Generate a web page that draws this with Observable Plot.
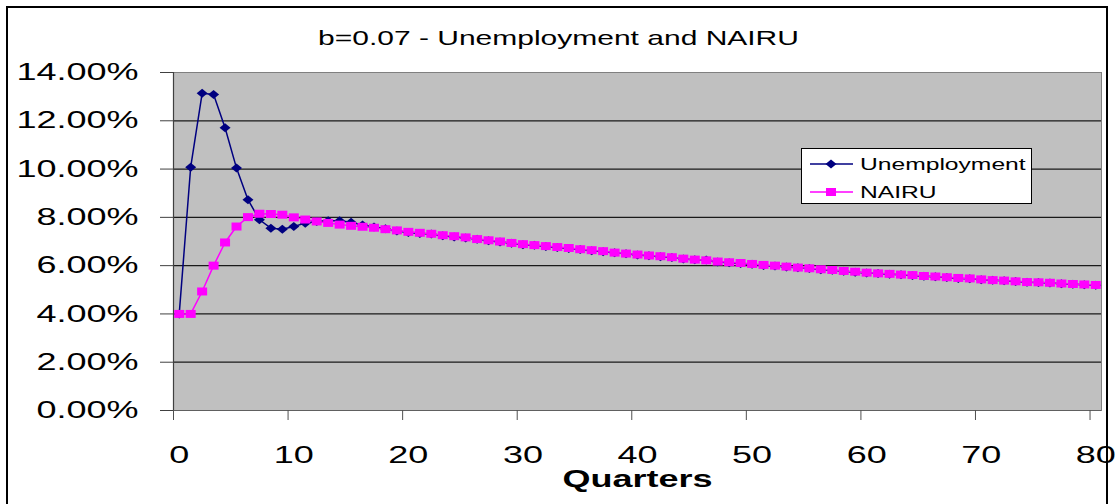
<!DOCTYPE html>
<html>
<head>
<meta charset="utf-8">
<script src="https://cdn.jsdelivr.net/npm/d3@7"></script>
<script src="https://cdn.jsdelivr.net/npm/@observablehq/plot@0.6"></script>
<style>
  html, body { margin: 0; padding: 0; background: #fff; }
  #chart { width: 1117px; height: 504px; }
</style>
</head>
<body>
<div id="chart"></div>
<script>
// ---- data (percent) ----
const quarters = d3.range(0, 81);
const unemployment = [
  4.00, 10.08, 13.14, 13.09, 11.71, 10.04, 8.73, 7.90, 7.55, 7.51,
  7.62, 7.76, 7.83, 7.86, 7.86, 7.80, 7.68, 7.60, 7.53, 7.43,
  7.37, 7.33, 7.31, 7.24, 7.19, 7.15, 7.09, 7.03, 6.98, 6.93,
  6.87, 6.84, 6.79, 6.75, 6.71, 6.67, 6.62, 6.58, 6.53, 6.49,
  6.44, 6.41, 6.37, 6.34, 6.28, 6.24, 6.23, 6.15, 6.12, 6.09,
  6.06, 6.01, 5.99, 5.94, 5.91, 5.88, 5.83, 5.81, 5.77, 5.73,
  5.70, 5.67, 5.64, 5.62, 5.59, 5.56, 5.54, 5.51, 5.47, 5.46,
  5.42, 5.39, 5.37, 5.34, 5.31, 5.30, 5.28, 5.25, 5.23, 5.21,
  5.19
];
const nairu = [
  4.00, 4.00, 4.93, 6.00, 6.96, 7.62, 8.01, 8.15, 8.14, 8.11,
  8.00, 7.91, 7.83, 7.77, 7.70, 7.65, 7.61, 7.57, 7.51, 7.46,
  7.40, 7.36, 7.32, 7.26, 7.22, 7.17, 7.10, 7.05, 7.00, 6.94,
  6.89, 6.85, 6.81, 6.77, 6.73, 6.68, 6.64, 6.60, 6.54, 6.50,
  6.46, 6.42, 6.39, 6.35, 6.29, 6.25, 6.22, 6.17, 6.14, 6.11,
  6.07, 6.03, 6.00, 5.96, 5.92, 5.89, 5.85, 5.82, 5.78, 5.75,
  5.71, 5.68, 5.66, 5.63, 5.61, 5.57, 5.55, 5.52, 5.49, 5.47,
  5.43, 5.40, 5.38, 5.35, 5.32, 5.31, 5.29, 5.26, 5.24, 5.22,
  5.20
];
const yTicks = [0, 2, 4, 6, 8, 10, 12, 14];
const xLabelTicks = [0, 10, 20, 30, 40, 50, 60, 70, 80];
const xTickMarks = [-0.5, 9.5, 19.5, 29.5, 39.5, 49.5, 59.5, 69.5, 79.5];
const gridTicks = [2, 4, 6, 8, 10, 12];
const titleText = "b=0.07 - Unemployment and NAIRU";
const xTitle = "Quarters";
const seriesNames = ["Unemployment", "NAIRU"];
const colors = ["#000080", "#FF00FF"];

const unempData = quarters.map((q, i) => ({q, v: unemployment[i]}));
const nairuData = quarters.map((q, i) => ({q, v: nairu[i]}));

const diamondSym = {draw(ctx) { ctx.moveTo(-5.5, 0); ctx.lineTo(0, -4.5); ctx.lineTo(5.5, 0); ctx.lineTo(0, 4.5); ctx.closePath(); }};
const squareSym = {draw(ctx) { ctx.rect(-5, -4, 10, 8); }};

const font = "'Liberation Sans', Arial, sans-serif";

const svg = Plot.plot({
  width: 1117,
  height: 504,
  marginLeft: 173,
  marginRight: 16,
  marginTop: 72,
  marginBottom: 94,
  style: {fontFamily: font, background: "#fff", color: "#000", overflow: "visible"},
  x: {type: "linear", domain: [-0.5, 80.5]},
  y: {domain: [0, 14]},
  marks: [
    Plot.frame({fill: "#C0C0C0", stroke: "#808080"}),
    Plot.gridY(gridTicks, {stroke: "#1a1a1a", strokeOpacity: 1, strokeWidth: 1.2}),
    Plot.ruleX([-0.5], {stroke: "#404040", strokeWidth: 1.2}),
    Plot.ruleY([0], {stroke: "#606060", strokeWidth: 1.2}),
    Plot.axisY(yTicks, {
      anchor: "left", tickSize: 13, tickPadding: 22, stroke: "#404040",
      fontSize: 24, tickFormat: d => d.toFixed(2) + "%", label: null
    }),
    Plot.axisX(xTickMarks, {
      anchor: "bottom", tickSize: 10, stroke: "#505050", tickFormat: () => "", label: null
    }),
    Plot.axisX(xLabelTicks, {
      anchor: "bottom", tickSize: 0, tickPadding: 35, fontSize: 24,
      tickFormat: d => String(d), label: null
    }),
    Plot.line(unempData, {x: "q", y: "v", stroke: colors[0], strokeWidth: 1.5}),
    Plot.dot(unempData, {x: "q", y: "v", symbol: diamondSym, fill: colors[0], stroke: "none"}),
    Plot.line(nairuData, {x: "q", y: "v", stroke: colors[1], strokeWidth: 1.5}),
    Plot.dot(nairuData, {x: "q", y: "v", symbol: squareSym, fill: colors[1], stroke: "none"}),
    Plot.text([xTitle], {frameAnchor: "bottom", dy: 69, fontSize: 24, fontWeight: "bold", lineAnchor: "middle"}),
    Plot.text([titleText], {frameAnchor: "top", dx: -79, dy: -34, fontSize: 20, lineAnchor: "middle"})
  ]
});

// horizontal stretch of text to mimic the reference's wide glyphs
function stretch(el, s) {
  const x = parseFloat(el.getAttribute("x")) || 0;
  const t = el.getAttribute("transform") || "";
  el.setAttribute("transform", `${t} translate(${x},0) scale(${s},1) translate(${-x},0)`);
}
d3.select(svg).selectAll("text").each(function() { stretch(this, 1.5); });

// legend
const sel = d3.select(svg);
const lg = sel.append("g").attr("font-family", font).attr("text-anchor", "start");
lg.append("rect").attr("x", 801.5).attr("y", 148.5).attr("width", 230).attr("height", 55)
  .attr("fill", "#fff").attr("stroke", "#000").attr("stroke-width", 1);
const rows = [164, 192];
const syms = [diamondSym, squareSym];
seriesNames.forEach((name, i) => {
  const y = rows[i];
  lg.append("line").attr("x1", 810).attr("x2", 853).attr("y1", y).attr("y2", y)
    .attr("stroke", colors[i]).attr("stroke-width", 1.5);
  lg.append("path").attr("d", d3.symbol(syms[i])()).attr("transform", `translate(831,${y})`)
    .attr("fill", colors[i]);
  const t = lg.append("text").attr("x", 860).attr("y", y + 6).attr("font-size", 17)
    .attr("text-anchor", "start").attr("fill", "#000").text(name);
  stretch(t.node(), 1.45);
});

// outer chart border
sel.append("rect").attr("x", 7).attr("y", 7).attr("width", 1100).attr("height", 520)
  .attr("fill", "none").attr("stroke", "#000").attr("stroke-width", 2);

document.getElementById("chart").appendChild(svg);
</script>
</body>
</html>
